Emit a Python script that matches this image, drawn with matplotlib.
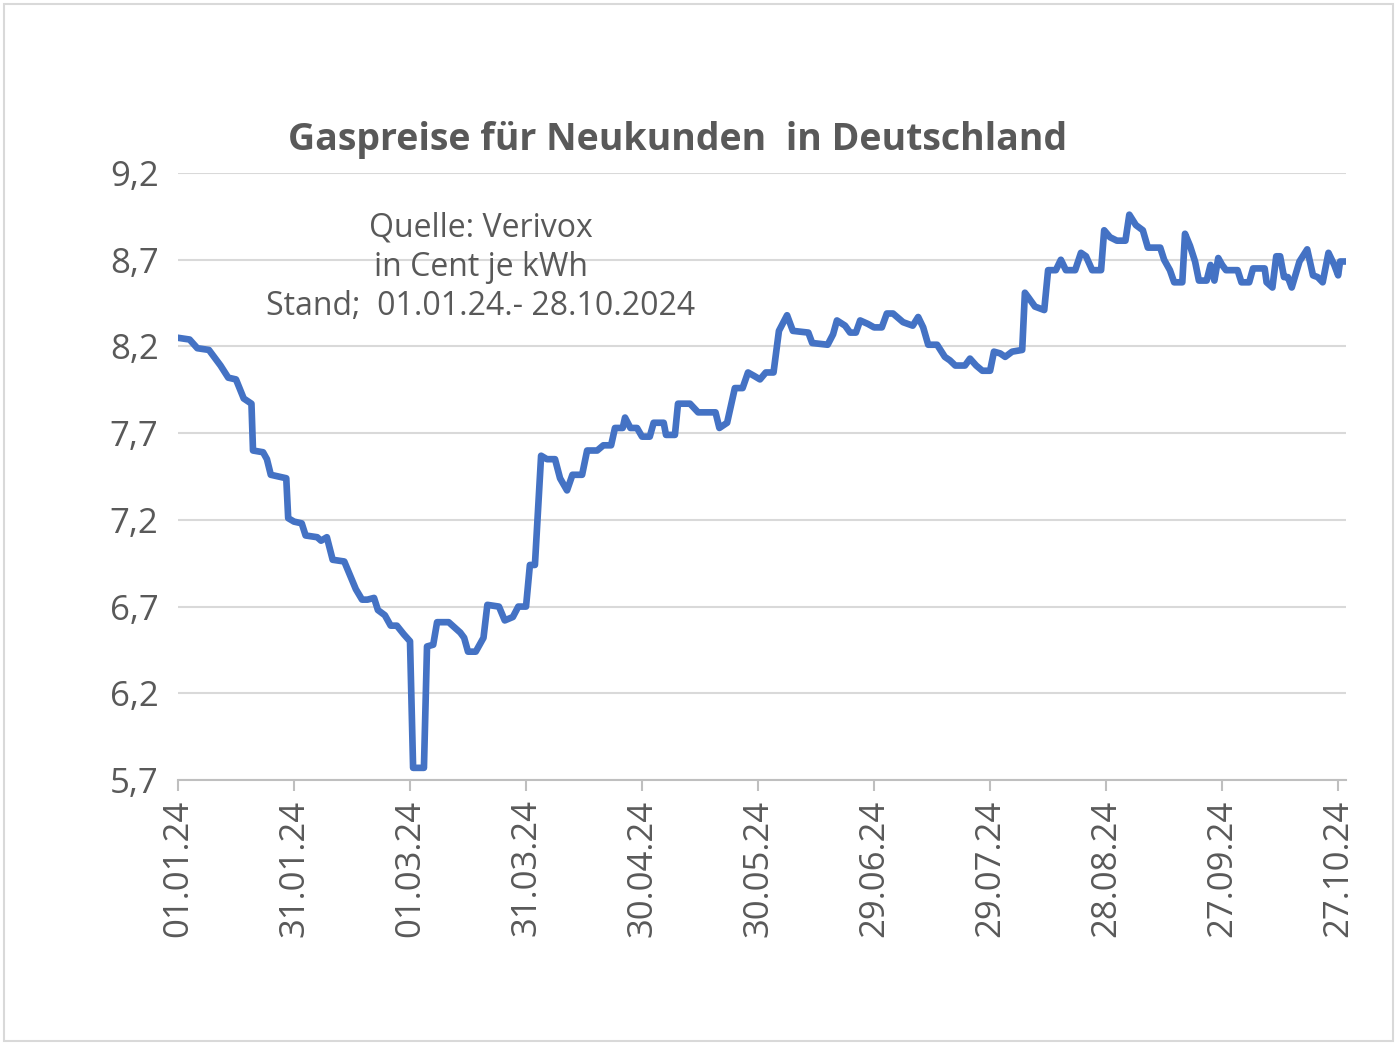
import matplotlib.pyplot as plt
from matplotlib.patches import Rectangle

# day offset from 01.01.24 and price (Cent/kWh)
days = [0, 3, 5, 8, 10, 11, 13, 15, 17, 19, 19.4, 22, 23, 24, 28, 28.5, 30, 32, 33, 36, 37, 38.5,
        40, 43, 44.5, 46, 47.6, 49, 50.7, 51.7, 53.5, 55, 56.6, 58.4, 60, 60.8, 63.6, 64.4, 66, 67,
        70, 73, 74, 75, 77, 79, 80, 83, 84.5, 86.6, 88, 90, 91, 92.3, 93.9, 95.4, 97.5, 98.8, 100.6,
        102, 104.5, 105.8, 108.4, 110, 112, 113, 115, 115.6, 117, 118.7, 120, 122, 123, 125.6, 126.2,
        128.5, 129.3, 132.4, 134.5, 139, 140, 142, 144, 146, 147.4, 149, 150.5, 152, 154, 155.4,
        157.5, 159, 163, 164, 168, 169.4, 170.4, 172.5, 173.8, 175.3, 176.4, 178.4, 180, 182, 183.3,
        184.9, 187.5, 190, 191.4, 192.7, 194, 196.3, 198.3, 199.6, 201, 203.5, 204.8, 206.4, 208,
        210, 211, 212.6, 213.9, 215.7, 218.3, 219, 220, 221.6, 224, 225, 227, 228.3, 229.6, 232,
        233.5, 234.8, 236.4, 238.7, 239.5, 241, 242.8, 245, 246, 247.7, 249.5, 250.8, 254, 255,
        256.5, 257.6, 259.7, 260.4, 261.7, 263, 264, 266, 267, 268, 269, 270, 271, 274, 275, 277,
        278, 281, 281.5, 283, 284, 285, 286, 287, 288, 290, 292, 293.5, 294.7, 296, 297.5, 299,
        300, 300.5, 302]
prices = [8.25, 8.24, 8.19, 8.18, 8.12, 8.09, 8.02, 8.01, 7.90, 7.87, 7.60, 7.59, 7.55, 7.46, 7.44,
          7.21, 7.19, 7.18, 7.11, 7.10, 7.08, 7.10, 6.97, 6.96, 6.88, 6.80, 6.74, 6.74, 6.75, 6.68,
          6.65, 6.59, 6.59, 6.54, 6.50, 5.77, 5.77, 6.47, 6.48, 6.61, 6.61, 6.55, 6.52, 6.44, 6.44,
          6.52, 6.71, 6.70, 6.62, 6.64, 6.70, 6.70, 6.94, 6.94, 7.57, 7.55, 7.55, 7.44, 7.37, 7.46,
          7.46, 7.60, 7.60, 7.63, 7.63, 7.73, 7.73, 7.79, 7.73, 7.73, 7.68, 7.68, 7.76, 7.76, 7.69,
          7.69, 7.87, 7.87, 7.82, 7.82, 7.73, 7.76, 7.96, 7.96, 8.05, 8.03, 8.01, 8.05, 8.05, 8.29,
          8.38, 8.29, 8.28, 8.22, 8.21, 8.27, 8.35, 8.32, 8.28, 8.28, 8.35, 8.33, 8.31, 8.31, 8.39,
          8.39, 8.34, 8.32, 8.37, 8.31, 8.21, 8.21, 8.14, 8.12, 8.09, 8.09, 8.13, 8.09, 8.06, 8.06,
          8.17, 8.16, 8.14, 8.17, 8.18, 8.51, 8.48, 8.43, 8.41, 8.64, 8.64, 8.70, 8.64, 8.64, 8.74,
          8.72, 8.64, 8.64, 8.87, 8.83, 8.81, 8.81, 8.96, 8.90, 8.87, 8.77, 8.77, 8.70, 8.64, 8.57,
          8.57, 8.85, 8.78, 8.69, 8.58, 8.58, 8.67, 8.58, 8.71, 8.67, 8.64, 8.64, 8.57, 8.57, 8.65,
          8.65, 8.57, 8.54, 8.72, 8.72, 8.60, 8.60, 8.54, 8.69, 8.76, 8.61, 8.60, 8.57, 8.74, 8.67,
          8.61, 8.69, 8.69]

tick_days = [0, 30, 60, 90, 120, 150, 180, 210, 240, 270, 300]
tick_labels = ["01.01.24", "31.01.24", "01.03.24", "31.03.24", "30.04.24", "30.05.24",
               "29.06.24", "29.07.24", "28.08.24", "27.09.24", "27.10.24"]
y_ticks = [5.7, 6.2, 6.7, 7.2, 7.7, 8.2, 8.7, 9.2]

plt.rcParams["font.family"] = "Open Sans"
gray = "#595959"

fig = plt.figure(figsize=(13.97, 10.45), dpi=100)
fig.patches.append(Rectangle((0.003, 0.004), 0.994, 0.992, transform=fig.transFigure,
                             fill=False, ec="#d9d9d9", lw=1.5))
ax = fig.add_axes([0.1274, 0.2536, 0.836, 0.5808])
ax.plot(days, prices, color="#4472C4", lw=4.8, solid_joinstyle="round")

ax.set_xlim(0, 302)
ax.set_ylim(5.7, 9.2)
ax.set_yticks(y_ticks)
ax.set_yticklabels([f"{v:.1f}".replace(".", ",") for v in y_ticks], fontsize=25, color=gray)
ax.set_xticks(tick_days)
ax.set_xticklabels(tick_labels, rotation=90, fontsize=25, color=gray)
ax.tick_params(axis="y", length=0, pad=14)
ax.tick_params(axis="x", length=8, color="#bfbfbf", width=1.5, pad=6)
ax.grid(axis="y", color="#d9d9d9", lw=1.5)
ax.set_axisbelow(True)
for s in ["top", "right", "left"]:
    ax.spines[s].set_visible(False)
ax.spines["bottom"].set_color("#bfbfbf")
ax.spines["bottom"].set_linewidth(1.5)

fig.text(0.485, 0.866, "Gaspreise für Neukunden  in Deutschland", ha="center", va="center",
         fontsize=27, fontweight="bold", color=gray)
fig.text(0.344, 0.744, "Quelle: Verivox\nin Cent je kWh\nStand;  01.01.24.- 28.10.2024",
         ha="center", va="center", fontsize=23, color=gray, linespacing=1.25)

fig.savefig("out.png", dpi=100)
